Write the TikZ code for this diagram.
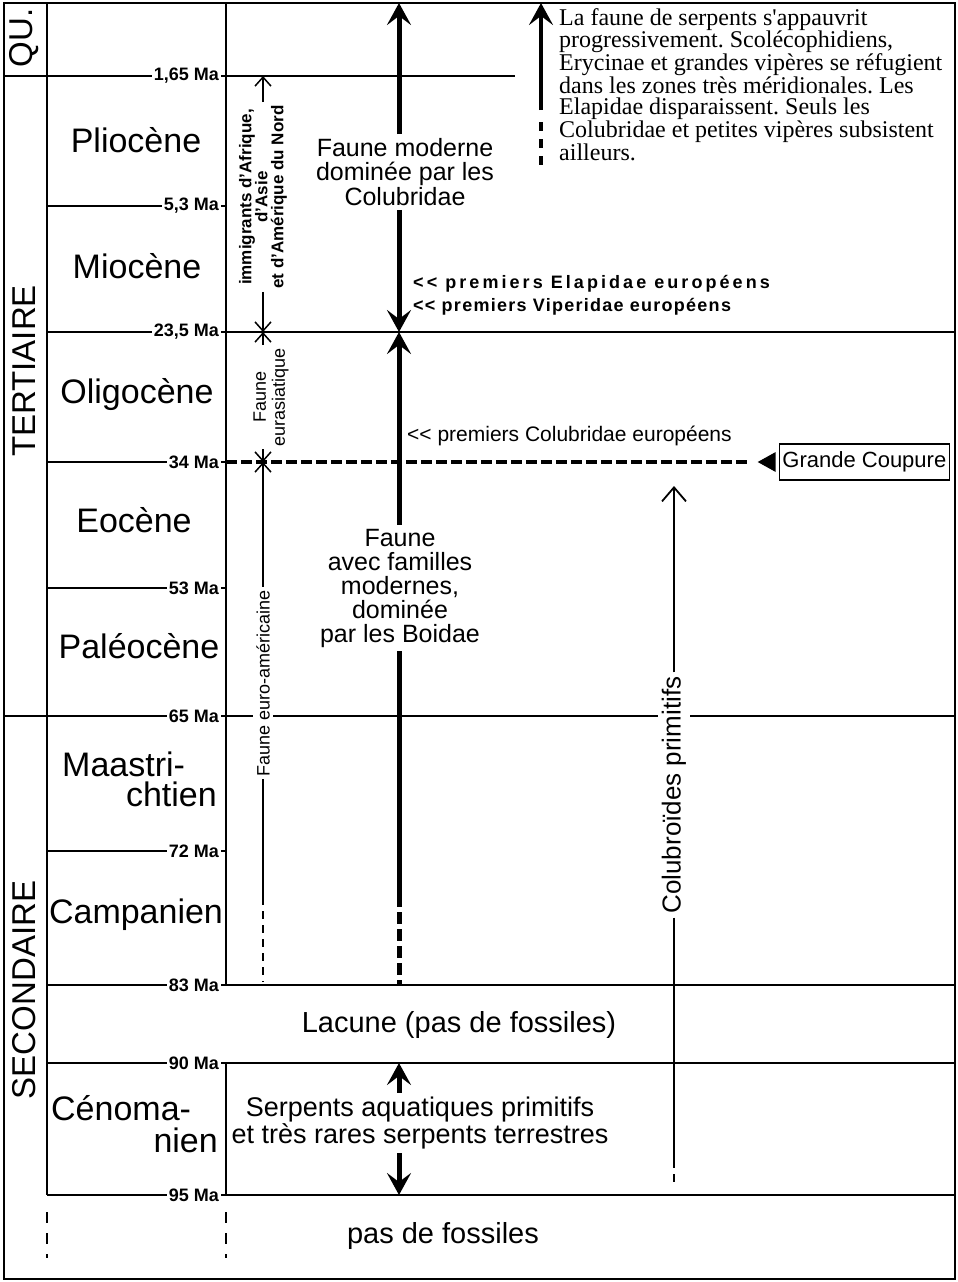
\documentclass[tikz,border=0pt]{standalone}
\usepackage{fontspec}
\setmainfont{Liberation Sans}
\newfontfamily\timfont{Liberation Serif}
\usetikzlibrary{arrows.meta,calc}
\newcommand\fsz[2]{\fontsize{#1}{#2}\selectfont}
\newcommand\dlt{<{}<}
\frenchspacing
\begin{document}
\begin{tikzpicture}[x=1pt,y=-1pt,
  rule/.style={line width=1.8pt},
  ma/.style={anchor=east,font=\bfseries\fsz{18}{18},inner sep=2pt},
  period/.style={font=\fsz{34}{34},inner sep=0pt,anchor=base},
  era/.style={rotate=90,font=\fsz{33}{33},inner sep=0pt},
  vlab/.style={rotate=90,fill=white,inner sep=3pt,align=center},
  big/.style={line width=5pt},
  bigtip/.style={-{Stealth[length=22pt,width=24pt,inset=9pt]}},
  thinarr/.style={line width=1.5pt,-{Straight Barb[length=9pt,width=16pt,line width=1.5pt]}},
  colarr/.style={line width=1.8pt,-{Straight Barb[length=14pt,width=24pt,line width=1.8pt]}},
  txt/.style={align=center,inner sep=4pt},
]
\path[use as bounding box] (0,0) rectangle (958,1282);
\coordinate (TL) at (4,3);
\coordinate (BR) at (955,1279);
\coordinate (c1) at (47,3);
\coordinate (c2) at (226,3);
\coordinate (ax) at (263,0);
\coordinate (bc) at (399,0);
\coordinate (cc) at (674,0);
\coordinate (ra) at (541,0);
\draw[rule] (TL) rectangle (BR);

% Ma labels
\node[ma] (m1) at (221,76) {1,65 Ma};
\node[ma] (m53) at (221,206) {5,3 Ma};
\node[ma] (m235) at (221,332) {23,5 Ma};
\node[ma] (m34) at (221,462) {34 Ma};
\node[ma] (m53b) at (221,588) {53 Ma};
\node[ma] (m65) at (221,716) {65 Ma};
\node[ma] (m72) at (221,851) {72 Ma};
\node[ma] (m83) at (221,985) {83 Ma};
\node[ma] (m90) at (221,1063) {90 Ma};
\node[ma] (m95) at (221,1195) {95 Ma};

% horizontal rules
\coordinate (e165) at (515,76);
\draw[rule] (m1 -| TL) -- (m1.west);
\draw[rule] (m1.east) -- (e165);
\draw[rule] (m53 -| c1) -- (m53.west);
\draw[rule] (m53.east) -- (m53 -| c2);
\draw[rule] (m235 -| c1) -- (m235.west);
\draw[rule] (m235.east) -- (m235 -| BR);
\draw[rule] (m34 -| c1) -- (m34.west);
\draw[rule] (m34.east) -- (m34 -| c2);
\draw[rule] (m53b -| c1) -- (m53b.west);
\draw[rule] (m53b.east) -- (m53b -| c2);
\draw[rule] (m65 -| TL) -- (m65.west);
\draw[rule] (m65.east) -- (m65 -| BR);
\draw[rule] (m72 -| c1) -- (m72.west);
\draw[rule] (m72.east) -- (m72 -| c2);
\draw[rule] (m83 -| c1) -- (m83.west);
\draw[rule] (m83.east) -- (m83 -| BR);
\draw[rule] (m90 -| c1) -- (m90.west);
\draw[rule] (m90.east) -- (m90 -| BR);
\draw[rule] (m95 -| c1) -- (m95.west);
\draw[rule] (m95.east) -- (m95 -| BR);

% vertical rules
\coordinate (d1) at (0,1212);
\coordinate (d2) at (0,1258);
\draw[rule] (c1) -- (m95 -| c1);
\draw[rule] (c2) -- (m83 -| c2);
\draw[rule] (m90 -| c2) -- (m95 -| c2);
\draw[rule,dash pattern=on 11pt off 10pt] (c1 |- d1) -- (c1 |- d2);
\draw[rule,dash pattern=on 11pt off 10pt] (c2 |- d1) -- (c2 |- d2);

% era labels
\node[era] (qu) at (24,38) {QU.};
\node[era] (ter) at (24,371) {TERTIAIRE};
\node[era] (sec) at (24,990) {SECONDAIRE};

% period labels
\node[period] (plio) at (136,152) {Pliocène};
\node[period] (mio) at (137,278) {Miocène};
\node[period] (oli) at (137,403) {Oligocène};
\node[period] (eoc) at (134,532) {Eocène};
\node[period] (pal) at (139,658) {Paléocène};
\node[period,anchor=base west] (maa) at (62,776) {Maastri-};
\node[period,anchor=base east] (cht) at (217,806) {chtien};
\node[period] (cam) at (136,923) {Campanien};
\node[period,anchor=base west] (cen) at (51,1120) {Cénoma-};
\node[period,anchor=base east] (nie) at (218,1152) {nien};

% Grande Coupure
\node[draw,line width=1.4pt,font=\fsz{22}{22},inner sep=3pt,minimum height=36pt,anchor=east] (gc) at (950,462) {Grande Coupure};
\coordinate (tri) at ($(gc.west)+(-21,0)$);
\fill ($(gc.west)+(-3,-10)$) -- ($(gc.west)+(-3,10)$) -- (tri) -- cycle;
\draw[line width=3.5pt,dash pattern=on 11pt off 4pt] (m34 -| c2) -- ($(tri)+(-9,0)$);

% big central column
\node[txt,font=\fsz{25}{24.5}] (fm) at (405,172) {Faune moderne\\dominée par les\\Colubridae};
\node[txt,font=\fsz{25}{24}] (fa) at (400,588) {Faune\\avec familles\\modernes,\\dominée\\par les Boidae};
\coordinate (bd1) at (399,895);
\coordinate (bd2) at (399,984);
\draw[big,bigtip] (fm.north -| bc) -- (bc |- TL);
\draw[big,bigtip] (fm.south -| bc) -- (m235 -| bc);
\draw[big,bigtip] (fa.north -| bc) -- (m235 -| bc);
\draw[big] (fa.south -| bc) -- (bd1);
\draw[big,dash pattern=on 12pt off 5pt] (bd1) -- (bd2);

\node[txt,font=\fsz{27}{25}] (sp) at (420,1123) {Serpents aquatiques primitifs\\et très rares serpents terrestres};
\draw[big,bigtip] (sp.north -| bc) -- (m90 -| bc);
\draw[big,bigtip] (sp.south -| bc) -- (m95 -| bc);

\node[font=\fsz{29}{29},anchor=base] (lac) at (459,1032) {Lacune (pas de fossiles)};
\node[font=\fsz{29}{29},anchor=base] (pdf) at (443,1243) {pas de fossiles};

% premiers ...
\node[anchor=base west,inner sep=0pt,font=\bfseries\fsz{18}{18}\addfontfeatures{LetterSpace=17}] (pel) at (413,288) {\dlt{} premiers Elapidae européens};
\node[anchor=base west,inner sep=0pt,font=\bfseries\fsz{18}{18}\addfontfeatures{LetterSpace=7}] (pvi) at (413,311) {\dlt{} premiers Viperidae européens};
\node[anchor=base west,inner sep=0pt,font=\fsz{21}{21}] (pco) at (407,441) {\dlt{} premiers Colubridae européens};

% top-right text and arrow
\node[anchor=north west,align=left,inner sep=0pt,font=\timfont\fsz{24}{21}] (tt) at (559,8) {La faune de serpents s'appauvrit\\progressivement. Scolécophidiens,\\Erycinae et grandes vipères se réfugient\\dans les zones très méridionales. Les\\Elapidae disparaissent. Seuls les\\Colubridae et petites vipères subsistent\\ailleurs.};
\coordinate (ra1) at (541,110);
\coordinate (ra2) at (541,122);
\coordinate (ra3) at (541,166);
\draw[line width=4.5pt,bigtip] (ra1) -- (ra |- TL);
\draw[line width=4.5pt,dash pattern=on 9pt off 8pt] (ra2) -- (ra3);

% left migration column (drawn after rules, white-filled labels)
\node[vlab,font=\bfseries\fsz{17}{16}] (imm) at (263,197) {immigrants d'Afrique,\\d'Asie\\et d'Amérique du Nord};
\draw[thinarr] (imm.east -| ax) -- (m1 -| ax);
\draw[thinarr] (imm.west -| ax) -- (m235 -| ax);
\node[vlab,font=\fsz{18}{19}] (eur) at (271,397) {Faune\\eurasiatique};
\draw[thinarr] (eur.east -| ax) -- (m235 -| ax);
\draw[thinarr] (eur.west -| ax) -- (m34 -| ax);
\node[vlab,font=\fsz{18}{18}] (eua) at (263,683) {Faune euro-américaine};
\coordinate (eu1) at (263,897);
\coordinate (eu2) at (263,982);
\draw[thinarr] (eua.east) -- (m34 -| ax);
\draw[line width=1.5pt] (eua.west) -- (eu1);
\draw[line width=1.5pt,dash pattern=on 8pt off 6pt] (eu1) -- (eu2);

% Colubroides
\node[vlab,font=\fsz{26}{26},inner sep=4pt] (col) at (674,795) {Colubroïdes primitifs};
\coordinate (co0) at (674,486);
\coordinate (co1) at (674,1160);
\coordinate (co2) at (674,1184);
\draw[colarr] (col.east) -- (co0);
\draw[line width=1.8pt] (col.west) -- (co1);
\draw[line width=1.8pt,dash pattern=on 8pt off 6pt] (co1) -- (co2);
\end{tikzpicture}
\end{document}
